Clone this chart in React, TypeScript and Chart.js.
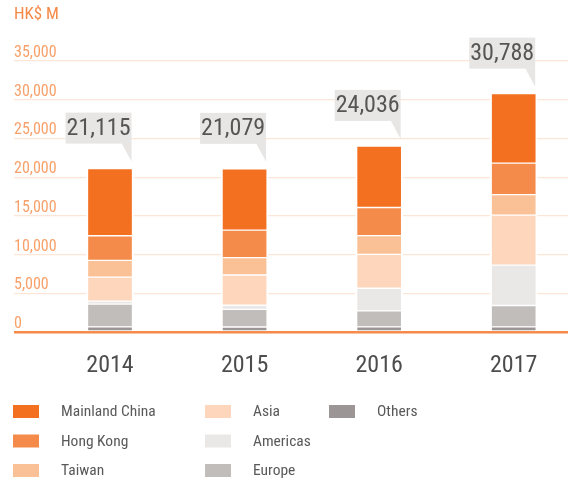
import React, { useEffect, useRef } from "react";
import { Chart, registerables } from "chart.js";

Chart.register(...registerables);

// ---- data ----
const YEARS = [2014, 2015, 2016, 2017];
const TOTALS = [21115, 21079, 24036, 30788];

// bottom-up stacking order
const OTHERS = [690, 670, 685, 690];
const EUROPE = [2930, 2270, 2060, 2760];
const AMERICAS = [390, 540, 2930, 5200];
const ASIA = [3100, 3900, 4370, 6450];
const TAIWAN = [2160, 2235, 2420, 2650];
const HONG_KONG = [3180, 3560, 3630, 4070];
const MAINLAND_CHINA = [8665, 7904, 7941, 8968];

const Y_MAX = 35000;
const Y_STEP = 5000;
const X_MIN = 2013.2866;
const X_MAX = 2017.4034;

const LEGEND_ORDER = ["Mainland China", "Hong Kong", "Taiwan", "Asia", "Americas", "Europe", "Others"];

const FONT = "'Roboto Condensed', 'DejaVu Sans Condensed', sans-serif";

const overlayPlugin = {
  id: "overlay",
  afterDatasetsDraw(chart: any) {
    const ctx = chart.ctx;
    const n = chart.data.datasets.length;
    const meta = chart.getDatasetMeta(n - 1);
    ctx.save();
    ctx.font = `24px ${FONT}`;
    meta.data.forEach((bar: any, i: number) => {
      const p = bar.getProps(["x", "y", "width"], true);
      const label = TOTALS[i].toLocaleString("en-US");
      const tw = ctx.measureText(label).width;
      const right = p.x + p.width / 2 - 2;
      const top = p.y + 1;
      const boxW = tw + 2;
      const boxH = 31;
      const boxBottom = top - 26;
      const boxTop = boxBottom - boxH;
      ctx.fillStyle = "#e8e6e5";
      ctx.fillRect(right - boxW, boxTop, boxW, boxH);
      ctx.beginPath();
      ctx.moveTo(right - 10, boxBottom - 0.5);
      ctx.lineTo(right, boxBottom - 0.5);
      ctx.lineTo(right, boxBottom + 18);
      ctx.closePath();
      ctx.fill();
      ctx.fillStyle = "#555555";
      ctx.textAlign = "center";
      ctx.textBaseline = "middle";
      ctx.fillText(label, right - boxW / 2, boxTop + boxH / 2 + 1);
    });
    ctx.restore();
  },
  afterDraw(chart: any) {
    const ctx = chart.ctx;
    const colX = [13, 205, 329];
    const rowY = [411.5, 441, 470.5];
    ctx.save();
    ctx.font = `15.5px ${FONT}`;
    ctx.textAlign = "left";
    ctx.textBaseline = "middle";
    LEGEND_ORDER.forEach((name, i) => {
      const ds = chart.data.datasets.find((d: any) => d.label === name);
      const col = Math.floor(i / 3);
      const row = i % 3;
      const x = colX[col];
      const y = rowY[row];
      ctx.fillStyle = ds.backgroundColor;
      ctx.fillRect(x, y - 6.5, 26, 13);
      ctx.fillStyle = "#595959";
      ctx.fillText(name, x + 48, y + 1);
    });
    ctx.restore();
  },
};

export default function App() {
  const ref = useRef<HTMLCanvasElement>(null);
  useEffect(() => {
    if (!ref.current) return;
    const mk = (label: string, data: number[], color: string) => ({
      label,
      data,
      backgroundColor: color,
      borderColor: "#ffffff",
      borderWidth: { top: 1, bottom: 1, left: 2, right: 2 },
      borderSkipped: false,
      barThickness: 47,
    });
    const chart = new Chart(ref.current, {
      type: "bar",
      data: {
        labels: YEARS,
        datasets: [
          mk("Others", OTHERS, "#9b9595"),
          mk("Europe", EUROPE, "#c1bdbb"),
          mk("Americas", AMERICAS, "#eae8e6"),
          mk("Asia", ASIA, "#fdd6bb"),
          mk("Taiwan", TAIWAN, "#fbc196"),
          mk("Hong Kong", HONG_KONG, "#f58b4a"),
          mk("Mainland China", MAINLAND_CHINA, "#f37021"),
        ],
      } as any,
      options: {
        animation: false,
        responsive: false,
        layout: { padding: { left: 14, right: 0, top: 0, bottom: 85 } },
        plugins: {
          legend: { display: false },
          tooltip: { enabled: false },
          title: {
            display: true,
            text: "HK$ M",
            align: "start",
            color: "#f58a48",
            font: { family: FONT, size: 17, weight: "normal" },
            padding: { top: 5, bottom: 35.6 },
          },
        },
        scales: {
          x: {
            type: "linear",
            stacked: true,
            offset: false,
            min: X_MIN,
            max: X_MAX,
            grid: { display: false, drawTicks: false },
            border: { display: false },
            afterBuildTicks: (scale: any) => {
              scale.ticks = YEARS.map((v) => ({ value: v }));
            },
            ticks: {
              autoSkip: false,
              maxRotation: 0,
              padding: 19,
              color: "#4d4d4d",
              font: { family: FONT, size: 24 },
              callback: (v: any) => String(v),
            },
          },
          y: {
            stacked: true,
            min: 0,
            max: Y_MAX,
            border: { display: false },
            grid: {
              drawTicks: false,
              color: (c: any) => (c.tick && c.tick.value === 0 ? "#f58a48" : "#fde6d6"),
              lineWidth: (c: any) => (c.tick && c.tick.value === 0 ? 2.5 : 1.2),
            },
            ticks: {
              stepSize: Y_STEP,
              mirror: true,
              padding: 0,
              labelOffset: -8,
              color: "#f8a06a",
              font: { family: FONT, size: 16 },
              callback: (v: any) => Number(v).toLocaleString("en-US"),
            },
          },
        },
      } as any,
      plugins: [overlayPlugin],
    });
    return () => chart.destroy();
  }, []);
  return (
    <div style={{ position: "fixed", left: 0, top: 0, width: 568, height: 484, background: "#fff" }}>
      <canvas ref={ref} width={568} height={484} />
    </div>
  );
}
